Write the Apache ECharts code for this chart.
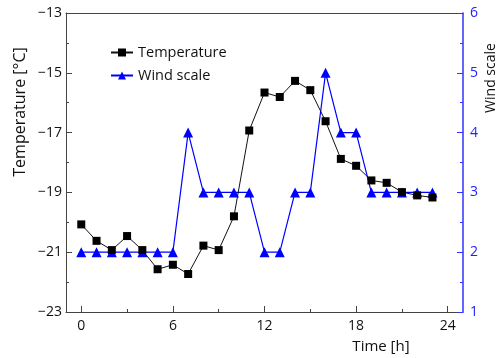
<!DOCTYPE html>
<html>
<head>
<meta charset="utf-8">
<script src="https://cdn.jsdelivr.net/npm/echarts@6/dist/echarts.min.js"></script>
<style>html,body{margin:0;padding:0;background:#fff}#c{width:500px;height:358px}</style>
</head>
<body>
<div id="c"></div>
<script>
const hours = [0,1,2,3,4,5,6,7,8,9,10,11,12,13,14,15,16,17,18,19,20,21,22,23];
const temperature = [-20.07,-20.62,-20.93,-20.46,-20.93,-21.57,-21.42,-21.73,-20.78,-20.93,-19.8,-16.93,-15.66,-15.81,-15.27,-15.58,-16.62,-17.88,-18.11,-18.6,-18.68,-18.99,-19.1,-19.17];
const windScale = [2,2,2,2,2,2,2,4,3,3,3,3,2,2,3,3,5,4,4,3,3,3,3,3];
const xMajorTicks = [0,6,12,18,24];
const xMinorTicks = [3,9,15,21];

const FONT = 'Open Sans';
const chart = echarts.init(document.getElementById('c'), null, {renderer:'canvas'});
const minusFmt = v => String(v).replace('-', '\u2212');
chart.setOption({
  animation:false,
  textStyle:{fontFamily:FONT},
  grid:{left:66, right:37, top:13, bottom:46, show:false},
  legend:{
    orient:'vertical', left:105, top:40, itemWidth:22, itemHeight:10, itemGap:8,
    textStyle:{fontFamily:FONT, fontSize:14.5, color:'#111'},
    data:['Temperature','Wind scale']
  },
  xAxis:[{
    type:'value', min:-1, max:25, position:'bottom',
    axisLine:{onZero:false, lineStyle:{color:'#444', width:1}},
    axisTick:{show:true, inside:true, length:6, customValues:xMajorTicks, lineStyle:{color:'#444'}},
    axisLabel:{customValues:xMajorTicks, color:'#111', fontSize:14, margin:7, fontFamily:FONT},
    splitLine:{show:false}
  },{
    type:'value', min:-1, max:25, position:'bottom',
    axisLine:{show:false, onZero:false},
    axisTick:{show:true, inside:true, length:3, customValues:xMinorTicks, lineStyle:{color:'#444'}},
    axisLabel:{show:false, customValues:xMinorTicks},
    splitLine:{show:false}
  },{
    type:'value', min:-1, max:25, position:'top',
    axisLine:{show:true, onZero:false, lineStyle:{color:'#444', width:1}},
    axisTick:{show:false}, axisLabel:{show:false}, splitLine:{show:false}
  }],
  yAxis:[{
    type:'value', min:-23, max:-13, interval:2, position:'left',
    axisLine:{show:true, onZero:false, lineStyle:{color:'#444', width:1}},
    axisTick:{show:true, inside:true, length:6, lineStyle:{color:'#444'}},
    minorTick:{show:true, splitNumber:2, length:3, lineStyle:{color:'#444'}},
    axisLabel:{color:'#111', fontSize:14, margin:4, formatter:minusFmt, fontFamily:FONT},
    splitLine:{show:false}
  },{
    type:'value', min:1, max:6, interval:1, position:'right',
    axisLine:{show:true, onZero:false, lineStyle:{color:'#3333ff', width:1.5}},
    axisTick:{show:true, inside:true, length:6, lineStyle:{color:'#3333ff'}},
    minorTick:{show:true, splitNumber:2, length:3, lineStyle:{color:'#3333ff'}},
    axisLabel:{color:'#2222ff', fontSize:14, margin:7, fontFamily:FONT},
    splitLine:{show:false}
  }],
  series:[{
    name:'Temperature', type:'line', xAxisIndex:0, yAxisIndex:0,
    data:hours.map((h,i)=>[h,temperature[i]]),
    symbol:'rect', symbolSize:8,
    lineStyle:{color:'#111', width:1},
    itemStyle:{color:'#000'},
    z:3
  },{
    name:'Wind scale', type:'line', xAxisIndex:0, yAxisIndex:1,
    data:hours.map((h,i)=>[h,windScale[i]]),
    symbol:'triangle', symbolSize:10,
    lineStyle:{color:'#0000ff', width:1.2},
    itemStyle:{color:'#0000ff'},
    z:2
  }],
  graphic:[
    {type:'text', x:20, y:112, rotation:Math.PI/2,
     style:{text:'Temperature [\u00B0C]', fontFamily:FONT, fontSize:16, fill:'#111', align:'center', verticalAlign:'middle'}},
    {type:'text', x:491, y:78, rotation:Math.PI/2,
     style:{text:'Wind scale', fontFamily:FONT, fontSize:14, fill:'#111', align:'center', verticalAlign:'middle'}},
    {type:'text', x:381, y:347,
     style:{text:'Time [h]', fontFamily:FONT, fontSize:15, fill:'#111', align:'center', verticalAlign:'middle'}}
  ]
});
</script>
</body>
</html>
